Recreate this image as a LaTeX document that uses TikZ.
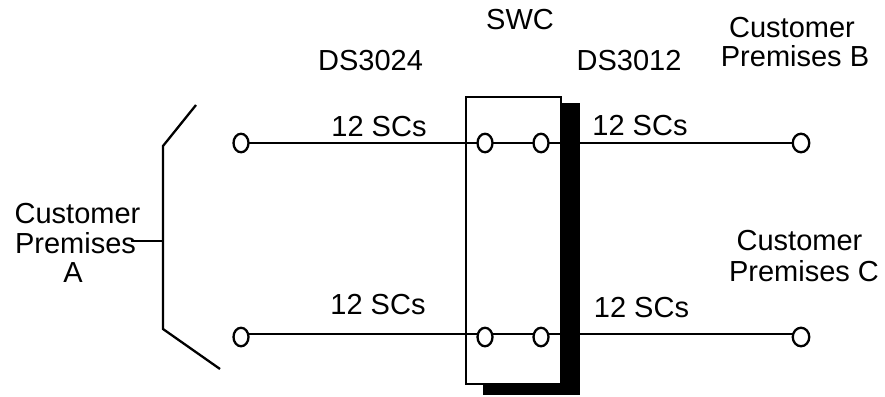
\documentclass[tikz,border=0pt]{standalone}
\usepackage{fontspec}
\setmainfont{Liberation Sans}
\usetikzlibrary{shapes.geometric}
\tikzset{
  every node/.style={inner sep=0pt,outer sep=0pt},
  lbl/.style={font=\fontsize{29}{29.5}\selectfont,align=center,text=black},
  port/.style={ellipse,draw=black,line width=2.3pt,fill=white,minimum width=15pt,minimum height=18.5pt},
  wideport/.style={port,minimum width=16.5pt},
  wire/.style={line width=2.3pt,draw=black},
}
\begin{document}
\begin{tikzpicture}[x=1pt,y=-1pt]
\useasboundingbox (0,0) rectangle (885,396);
% shadow and box
\fill[black] (483,103) rectangle (580,395);
\node[draw=black,fill=white,line width=2.3pt,minimum width=95pt,minimum height=287pt,anchor=north west] (swc) at (466,97) {};
% ports
\node[port] (p1) at (241,143) {};
\node[port] (p2) at (485,143) {};
\node[port] (p3) at (541,143) {};
\node[wideport] (p4) at (801,143) {};
\node[port] (q1) at (241,337) {};
\node[port] (q2) at (485,337) {};
\node[port] (q3) at (541,337) {};
\node[wideport] (q4) at (801,337) {};
\draw[wire] (p1) -- (p2);
\draw[wire] (p2) -- (p3);
\draw[wire] (p3) -- (p4);
\draw[wire] ([yshift=3pt]q1.east) -- ([yshift=3pt]q2.west);
\draw[wire] ([yshift=3pt]q2.east) -- ([yshift=3pt]q3.west);
\draw[wire] ([yshift=3pt]q3.east) -- ([yshift=3pt]q4.west);
\fill[black] (560,110) rectangle (580,150);
\fill[black] (560,320) rectangle (580,350);
% bracket
\coordinate (b1) at (196,105);
\coordinate (b2) at (163,146);
\coordinate (b3) at (163,329);
\coordinate (b4) at (220,369);
\coordinate (bm) at (163,241);
\coordinate (bs) at (131,241);
\draw[wire,line join=miter] (b1) -- (b2) -- (b3) -- (b4);
\draw[wire] (bs) -- (bm);
% labels
\node[lbl] (swcl) at (520,20) {SWC};
\node[lbl] (ds1) at (370.5,60.5) {DS3024};
\node[lbl] (ds2) at (629,61) {DS3012};
\node[lbl] (cb) at (795,42) {\hspace*{-6pt}Customer\\Premises B};
\node[lbl] (cc) at (804,256) {\hspace*{-9pt}Customer\\[2pt]Premises C};
\node[lbl] (ca) at (77.5,243) {Customer\\\hspace*{-4pt}Premises\\\hspace*{-9pt}A};
\node[lbl] (s1) at (379,126.5) {12 SCs};
\node[lbl] (s2) at (640,125.5) {12 SCs};
\node[lbl] (s3) at (378,305) {12 SCs};
\node[lbl] (s4) at (641.5,307.5) {12 SCs};
\end{tikzpicture}
\end{document}
